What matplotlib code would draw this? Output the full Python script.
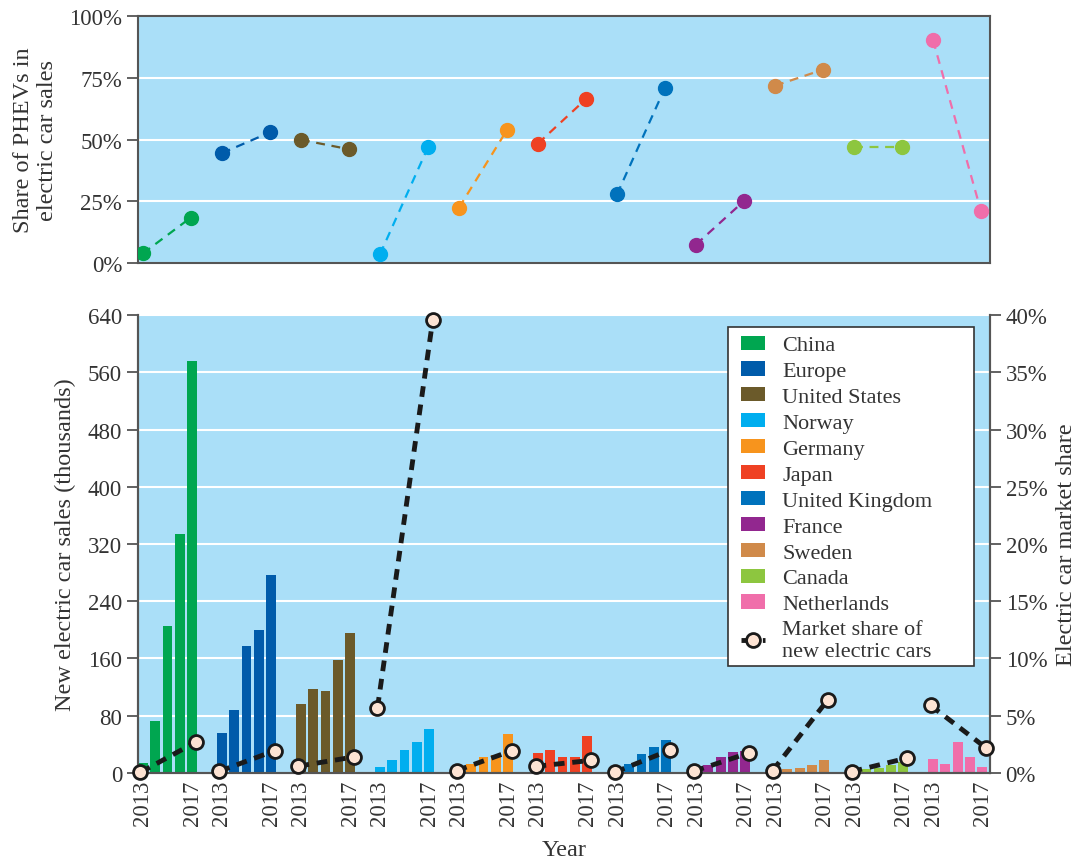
import matplotlib.pyplot as plt
from matplotlib.patches import Patch, Rectangle
from matplotlib.lines import Line2D

plt.rcParams['font.family'] = ['Liberation Serif', 'DejaVu Serif']

countries = ['China', 'Europe', 'United States', 'Norway', 'Germany', 'Japan',
             'United Kingdom', 'France', 'Sweden', 'Canada', 'Netherlands']
colors = ['#00A650', '#005BAA', '#6B5A2A', '#00AEEF', '#F7941D', '#EF4123',
          '#0072BC', '#92278F', '#D08A4A', '#8DC63F', '#F06EAA']
years = [2013, 2014, 2015, 2016, 2017]

# new electric car sales (thousands), 2013..2017
sales = [
    [14, 72, 206, 334, 576],
    [56, 88, 178, 200, 276],
    [96, 118, 114, 158, 196],
    [8, 18, 32, 44, 62],
    [6, 12, 23, 25, 54],
    [28, 32, 23, 23, 52],
    [4, 13, 27, 36, 46],
    [9, 11, 23, 29, 31],
    [2, 5, 7, 11, 18],
    [3, 5, 7, 11, 16],
    [20, 13, 43, 23, 9],
]
# electric car market share (%), 2013 and 2017
share_2013 = [0.05, 0.15, 0.6, 5.7, 0.2, 0.58, 0.06, 0.15, 0.2, 0.12, 5.9]
share_2017 = [2.7, 1.95, 1.4, 39.6, 1.95, 1.1, 2.0, 1.75, 6.4, 1.3, 2.2]
# share of PHEVs in electric car sales (%), 2013 and 2017
phev_2013 = [3.9, 44.5, 49.9, 3.5, 22.4, 48.4, 27.8, 7.5, 71.8, 47.0, 90.2]
phev_2017 = [18.4, 52.9, 46.1, 46.8, 53.8, 66.4, 70.9, 25.1, 78.3, 47.0, 21.0]

bg = '#AADFF8'
spine_c = '#555555'
txt_c = '#333333'
gap = 6.43
tick_fs = 16.5
lab_fs = 17.5

fig = plt.figure(figsize=(10.78, 8.62), dpi=100)
ax_top = fig.add_axes([0.128, 0.6937, 0.790, 0.2865])
ax = fig.add_axes([0.128, 0.1021, 0.790, 0.5313])
ax2 = ax.twinx()

xlim = (-0.4, 68.9)

# top panel
for g, c in enumerate(colors):
    x0 = g * gap
    ax_top.plot([x0, x0 + 3.9], [phev_2013[g], phev_2017[g]], color=c, ls=(0, (4, 3)),
                lw=1.6, marker='o', ms=10, zorder=3)
ax_top.set_facecolor(bg)
ax_top.set_xlim(xlim)
ax_top.set_ylim(0, 100)
ax_top.set_yticks([0, 25, 50, 75, 100])
ax_top.set_yticklabels(['0%', '25%', '50%', '75%', '100%'])
ax_top.set_xticks([])
ax_top.grid(axis='y', color='white', lw=1.5)
ax_top.set_axisbelow(True)
ax_top.set_ylabel('Share of PHEVs in\nelectric car sales', fontsize=lab_fs, labelpad=8,
                  color=txt_c)
for s in ax_top.spines.values():
    s.set_color(spine_c)
    s.set_linewidth(1.5)
ax_top.tick_params(axis='y', labelsize=tick_fs, length=8, color=spine_c, width=1.3,
                   labelcolor=txt_c)

# bottom panel bars
ticks, labels = [], []
for g, c in enumerate(colors):
    x0 = g * gap
    xs = [x0 + i for i in range(len(years))]
    ax.bar(xs, sales[g], width=0.8, color=c, zorder=2)
    ticks += [xs[0], xs[-1]]
    labels += [str(years[0]), str(years[-1])]

ax.set_facecolor(bg)
ax.set_xlim(xlim)
ax.set_ylim(0, 640)
ax.set_yticks(range(0, 641, 80))
ax.set_xticks(ticks)
ax.set_xticklabels(labels, rotation=90)
ax.tick_params(axis='x', length=0, labelsize=16.5, pad=5, labelcolor=txt_c)
ax.tick_params(axis='y', labelsize=tick_fs, length=8, color=spine_c, width=1.3,
               labelcolor=txt_c)
ax.grid(axis='y', color='white', lw=1.5)
ax.set_axisbelow(True)
ax.set_ylabel('New electric car sales (thousands)', fontsize=lab_fs, labelpad=8,
              color=txt_c)
ax.set_xlabel('Year', fontsize=lab_fs, labelpad=10, color=txt_c)

# market share line on right axis
for g in range(len(countries)):
    x0 = g * gap
    ax2.plot([x0 - 0.2, x0 + 4.3], [share_2013[g], share_2017[g]], color='#1a1a1a',
             ls=(0, (2.2, 1.6)), lw=3.5, marker='o', ms=10, mfc='#FDE3D3',
             mec='#1a1a1a', mew=2, zorder=5, clip_on=False)
ax2.set_ylim(0, 40)
ax2.set_yticks(range(0, 41, 5))
ax2.set_yticklabels([f'{v}%' for v in range(0, 41, 5)])
ax2.tick_params(axis='y', labelsize=tick_fs, length=8, color=spine_c, width=1.3,
                labelcolor=txt_c)
ax2.set_ylabel('Electric car market share', fontsize=lab_fs, labelpad=6, color=txt_c)

for a in (ax, ax2):
    a.spines['top'].set_visible(False)
    for k in ('left', 'right', 'bottom'):
        a.spines[k].set_color(spine_c)
        a.spines[k].set_linewidth(1.5)

# legend box drawn separately so it can be wider than its text
ax2.add_patch(Rectangle((0.6925, 0.234), 0.2895, 0.74, transform=ax2.transAxes,
                        facecolor='white', edgecolor='#333333', lw=1.2, zorder=8))
handles = [Patch(facecolor=c, label=n) for n, c in zip(countries, colors)]
handles.append(Line2D([], [], color='#1a1a1a', ls=(0, (1, 1.2)), lw=3.5, marker='o',
                      ms=10, mfc='#FDE3D3', mec='#1a1a1a', mew=2,
                      label='Market share of\nnew electric cars'))
leg = ax2.legend(handles=handles, loc='upper left', bbox_to_anchor=(0.699, 0.972),
                 fontsize=16, frameon=False, handlelength=1.1, handleheight=0.6,
                 labelspacing=0.27, borderpad=0.35, handletextpad=0.75,
                 borderaxespad=0.0)
leg.set_zorder(9)
for t in leg.get_texts():
    t.set_color(txt_c)

fig.savefig('out.png', dpi=100)
